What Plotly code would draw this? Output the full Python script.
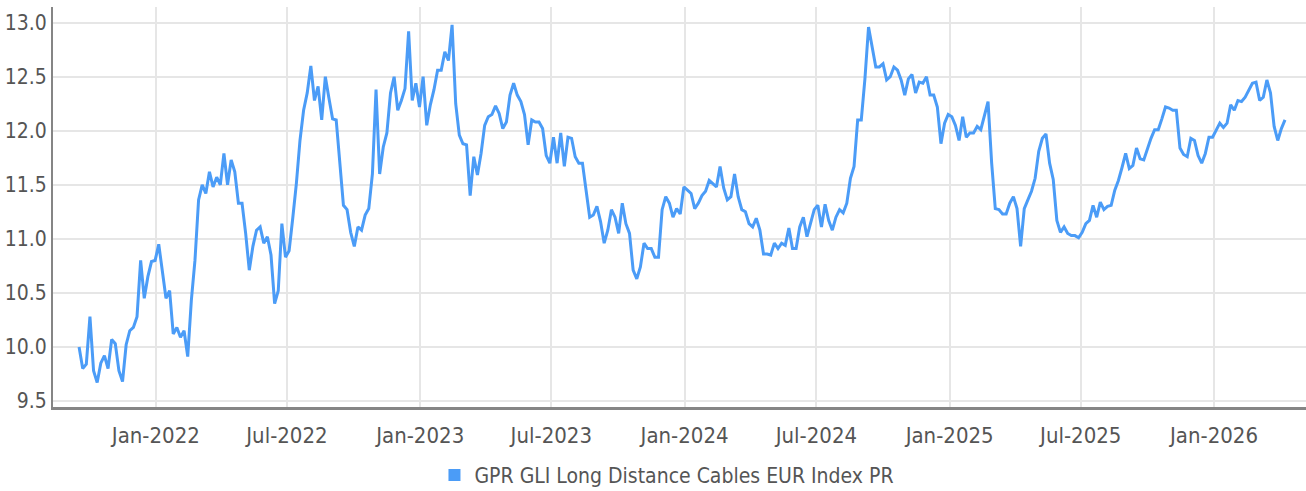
import pandas as pd
import plotly.graph_objects as go

series_name = "GPR GLI Long Distance Cables EUR Index PR"
start_date = "2021-09-17"
step = "5D"

index_values = [
    10.00, 9.80, 9.84, 10.28, 9.78, 9.67, 9.85, 9.92, 9.80, 10.07,
    10.03, 9.78, 9.68, 10.02, 10.15, 10.18, 10.28, 10.80, 10.45, 10.65,
    10.79, 10.80, 10.95, 10.68, 10.45, 10.52, 10.12, 10.18, 10.09, 10.15,
    9.91, 10.43, 10.80, 11.36, 11.50, 11.42, 11.62, 11.48, 11.57, 11.50,
    11.79, 11.50, 11.73, 11.62, 11.33, 11.33, 11.05, 10.71, 10.93, 11.08,
    11.11, 10.96, 11.02, 10.85, 10.40, 10.52, 11.14, 10.83, 10.89, 11.19,
    11.51, 11.91, 12.19, 12.35, 12.60, 12.28, 12.41, 12.10, 12.50, 12.30,
    12.11, 12.10, 11.73, 11.31, 11.27, 11.06, 10.93, 11.11, 11.08, 11.22,
    11.28, 11.60, 12.38, 11.60, 11.85, 11.98, 12.35, 12.50, 12.19, 12.28,
    12.39, 12.92, 12.28, 12.44, 12.22, 12.50, 12.05, 12.24, 12.38, 12.56,
    12.56, 12.73, 12.65, 12.98, 12.25, 11.96, 11.88, 11.87, 11.40, 11.76,
    11.59, 11.79, 12.05, 12.13, 12.15, 12.23, 12.16, 12.02, 12.08, 12.33,
    12.44, 12.33, 12.27, 12.15, 11.87, 12.10, 12.08, 12.08, 12.02, 11.77,
    11.70, 11.94, 11.70, 11.98, 11.67, 11.94, 11.93, 11.76, 11.70, 11.70,
    11.45, 11.20, 11.22, 11.30, 11.16, 10.96, 11.08, 11.27, 11.20, 11.05,
    11.33, 11.14, 11.05, 10.71, 10.63, 10.74, 10.96, 10.91, 10.91, 10.83,
    10.83, 11.27, 11.39, 11.33, 11.20, 11.28, 11.23, 11.48, 11.45, 11.42,
    11.28, 11.33, 11.40, 11.44, 11.54, 11.51, 11.48, 11.67, 11.47, 11.36,
    11.39, 11.60, 11.39, 11.27, 11.25, 11.14, 11.11, 11.19, 11.08, 10.86,
    10.86, 10.85, 10.96, 10.91, 10.96, 10.94, 11.10, 10.91, 10.91, 11.11,
    11.20, 11.02, 11.14, 11.27, 11.31, 11.11, 11.32, 11.17, 11.08, 11.20,
    11.27, 11.24, 11.33, 11.56, 11.67, 12.10, 12.10, 12.48, 12.96, 12.79,
    12.59, 12.59, 12.62, 12.47, 12.50, 12.59, 12.56, 12.47, 12.33, 12.48,
    12.52, 12.35, 12.45, 12.44, 12.50, 12.33, 12.33, 12.22, 11.88, 12.07,
    12.15, 12.13, 12.05, 11.91, 12.13, 11.94, 11.98, 11.98, 12.04, 12.01,
    12.13, 12.27, 11.70, 11.28, 11.27, 11.23, 11.23, 11.33, 11.39, 11.28,
    10.93, 11.28, 11.36, 11.44, 11.56, 11.81, 11.93, 11.97, 11.70, 11.55,
    11.17, 11.06, 11.11, 11.05, 11.03, 11.03, 11.01, 11.06, 11.14, 11.17,
    11.31, 11.20, 11.34, 11.27, 11.30, 11.31, 11.45, 11.54, 11.66, 11.79,
    11.65, 11.68, 11.84, 11.74, 11.73, 11.84, 11.93, 12.01, 12.01, 12.11,
    12.22, 12.21, 12.19, 12.19, 11.84, 11.78, 11.76, 11.93, 11.91, 11.77,
    11.70, 11.79, 11.94, 11.94, 12.01, 12.07, 12.03, 12.07, 12.24, 12.19,
    12.28, 12.27, 12.31, 12.38, 12.44, 12.45, 12.28, 12.31, 12.47, 12.35,
    12.04, 11.91, 12.02, 12.10,
]

tick_dates = ["2022-01-01", "2022-07-01", "2023-01-01", "2023-07-01", "2024-01-01",
              "2024-07-01", "2025-01-01", "2025-07-01", "2026-01-01"]
tick_labels = ["Jan-2022", "Jul-2022", "Jan-2023", "Jul-2023", "Jan-2024",
               "Jul-2024", "Jan-2025", "Jul-2025", "Jan-2026"]
y_ticks = [9.5, 10.0, 10.5, 11.0, 11.5, 12.0, 12.5, 13.0]

dates = pd.date_range(start_date, periods=len(index_values), freq=step)

LINE = "#4b9cf7"
FONT = "Liberation Sans Narrow, DejaVu Sans Condensed, Roboto, sans-serif"
TXT = "#555555"

fig = go.Figure()
fig.add_trace(go.Scatter(
    x=dates, y=index_values, mode="lines",
    line=dict(color=LINE, width=3),
    showlegend=False, name=series_name,
))
fig.add_trace(go.Scatter(
    x=[None], y=[None], mode="markers",
    marker=dict(symbol="square", size=11, color=LINE),
    name=series_name, showlegend=True,
))

fig.update_layout(
    width=1306, height=491,
    margin=dict(l=53, r=0, t=7, b=84, autoexpand=False),
    paper_bgcolor="white", plot_bgcolor="white",
    font=dict(family=FONT, size=22, color=TXT),
    legend=dict(orientation="h", x=0.49, xanchor="center",
                y=0.032, yref="container", yanchor="middle",
                font=dict(family=FONT, size=21, color=TXT),
                itemwidth=30, itemsizing="constant"),
)
fig.update_xaxes(
    type="date", range=["2021-08-12", "2026-05-08"],
    tickvals=tick_dates, ticktext=tick_labels,
    showgrid=True, gridcolor="#e6e6e6", gridwidth=2,
    showline=True, linecolor="#858585", linewidth=2.5,
    ticks="", ticklabelstandoff=7, zeroline=False, automargin=False,
)
fig.update_yaxes(
    range=[9.444, 13.145], tickvals=y_ticks, tickformat=".1f",
    tickfont=dict(size=21),
    showgrid=True, gridcolor="#e6e6e6", gridwidth=2,
    showline=True, linecolor="#858585", linewidth=2,
    ticks="", ticklabelstandoff=0, zeroline=False, automargin=False,
)

fig.write_html(
    "out.html",
    config={"displayModeBar": False},
    post_script="document.body.style.margin='0';document.body.style.overflow='hidden';",
)
